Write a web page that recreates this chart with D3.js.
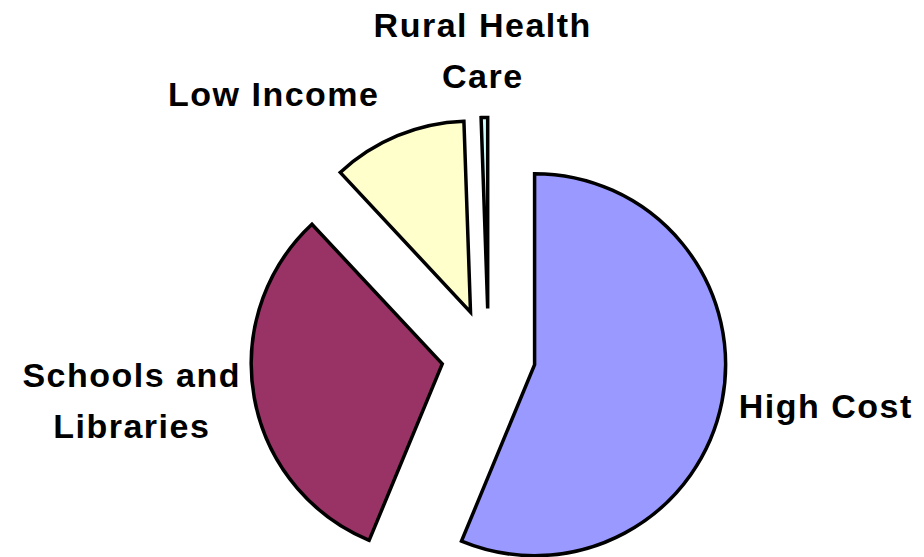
<!DOCTYPE html>
<html>
<head>
<meta charset="utf-8">
<script src="https://cdn.jsdelivr.net/npm/d3@7"></script>
<style>
  html, body { margin: 0; padding: 0; background: #ffffff; }
  svg { display: block; }
  text { font-family: "Liberation Sans", Arial, sans-serif; font-weight: bold; font-size: 34px; fill: #000; letter-spacing: 1.5px; }
</style>
</head>
<body>
<svg id="chart" width="924" height="557"></svg>
<script>
// Data (share of total, %)
const categories = ["High Cost", "Schools and Libraries", "Low Income", "Rural Health Care"];
const values = [56.25, 31.8, 11.4, 0.55];
const colors = ["#9999FF", "#993366", "#FFFFCC", "#CCFFFF"];
const labelLines = [["High Cost"], ["Schools and", "Libraries"], ["Low Income"], ["Rural Health", "Care"]];

// Layout
const W = 924, H = 557;
const cx = 488.5, cy = 355.5, radius = 191, explode = 47;
// label anchor (center x, first baseline y)
const labelPos = [[825, 418], [131, 387], [273, 106], [482, 37]];
const lineGap = 51;

const svg = d3.select("#chart");
const data = categories.map((c, i) => ({ name: c, value: values[i], color: colors[i], lines: labelLines[i], pos: labelPos[i] }));

const pie = d3.pie().sort(null).value(d => d.value).startAngle(0).endAngle(2 * Math.PI);
const arc = d3.arc().innerRadius(0).outerRadius(radius);

const g = svg.append("g").attr("transform", `translate(${cx},${cy})`);

g.selectAll("path")
  .data(pie(data))
  .join("path")
  .attr("d", arc)
  .attr("transform", d => {
    const a = (d.startAngle + d.endAngle) / 2;
    return `translate(${explode * Math.sin(a)},${-explode * Math.cos(a)})`;
  })
  .attr("fill", d => d.data.color)
  .attr("stroke", "#000")
  .attr("stroke-width", 3.5)
  .attr("stroke-linejoin", "miter");

const labels = svg.append("g").selectAll("text")
  .data(data)
  .join("text")
  .attr("text-anchor", "middle")
  .attr("x", d => d.pos[0] + 0.75)
  .attr("y", d => d.pos[1]);

labels.selectAll("tspan")
  .data(d => d.lines.map((l, i) => ({ text: l, x: d.pos[0] + 0.75, dy: i === 0 ? 0 : lineGap })))
  .join("tspan")
  .attr("x", d => d.x)
  .attr("dy", d => d.dy)
  .text(d => d.text);
</script>
</body>
</html>
